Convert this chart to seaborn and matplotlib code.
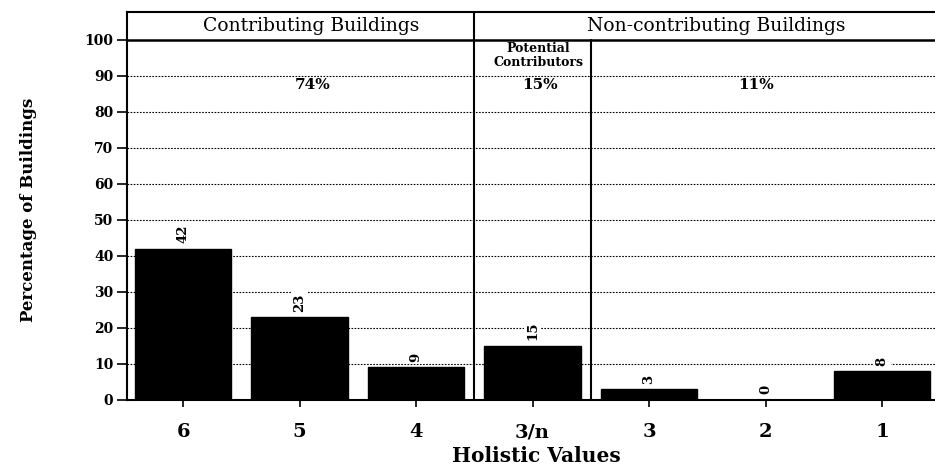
import pandas as pd
import seaborn as sns
import matplotlib.pyplot as plt

# data
categories = ["6", "5", "4", "3/n", "3", "2", "1"]
percentages = [42, 23, 9, 15, 3, 0, 8]
group_labels = ["Contributing Buildings", "Non-contributing Buildings"]
group_shares = ["74%", "15%", "11%"]
yticks = [0, 10, 20, 30, 40, 50, 60, 70, 80, 90, 100]


def main():
    df = pd.DataFrame({"value": categories, "pct": percentages})

    sns.set_style("ticks")
    plt.rcParams["font.family"] = ["DejaVu Serif"]
    plt.rcParams["text.color"] = "black"
    plt.rcParams["axes.labelcolor"] = "black"
    plt.rcParams["xtick.color"] = "black"
    plt.rcParams["ytick.color"] = "black"

    fig, ax = plt.subplots(figsize=(9.35, 4.71), dpi=100)
    fig.subplots_adjust(left=0.136, right=1.0, bottom=0.151, top=0.975)

    sns.barplot(data=df, x="value", y="pct", order=categories, color="black",
                saturation=1, width=0.83, edgecolor="black", ax=ax, zorder=3)

    ax.set_xlim(-0.48, 6.455)
    ax.set_ylim(0, 107.8)

    # dotted guides, solid line under header
    for y in yticks[1:-1]:
        ax.axhline(y, color="black", lw=0.8, ls=(0, (1.5, 1.3)), zorder=1)
    ax.axhline(100, color="black", lw=1.8, zorder=2)
    ax.axvline(2.5, color="black", lw=1.5, zorder=2)
    ax.plot([3.5, 3.5], [0, 100], color="black", lw=1.5, zorder=2)

    # header row
    ax.text(1.10, 103.9, group_labels[0], ha="center", va="center", fontsize=13.5)
    ax.text(4.58, 103.9, group_labels[1], ha="center", va="center", fontsize=13.5)

    # group shares
    for x, s in zip([1.11, 3.06, 4.92], group_shares):
        ax.text(x, 87.5, s, ha="center", va="center", fontsize=11, fontweight="bold")
    ax.text(3.05, 95.7, "Potential\nContributors", ha="center", va="center",
            fontsize=9, fontweight="bold", linespacing=1.1)

    # values above bars
    ax.bar_label(ax.containers[0], labels=[str(p) for p in percentages],
                 rotation=90, padding=4, fontsize=9.5, fontweight="bold",
                 bbox=dict(facecolor="white", edgecolor="none", pad=1.5))

    ax.set_yticks(yticks)
    ax.set_yticklabels([str(t) for t in yticks], fontweight="bold", fontsize=10)
    ax.set_xticks(range(len(categories)))
    ax.set_xticklabels(categories, fontweight="bold", fontsize=14)
    ax.tick_params(axis="y", direction="out", length=7, width=1.2, pad=3)
    ax.tick_params(axis="x", direction="out", length=5, width=1.2, pad=12)

    ax.set_xlabel("Holistic Values", fontweight="bold", fontsize=14.5)
    ax.set_ylabel("Percentage of Buildings", fontweight="bold", fontsize=12)
    ax.xaxis.set_label_coords(0.506, -0.118)
    ax.yaxis.set_label_coords(-0.112, 0.49)

    for side in ["left", "top", "bottom"]:
        ax.spines[side].set_linewidth(1.5)
        ax.spines[side].set_color("black")
    ax.spines["right"].set_visible(False)

    plt.savefig("out.png", dpi=100)


if __name__ == "__main__":
    main()
